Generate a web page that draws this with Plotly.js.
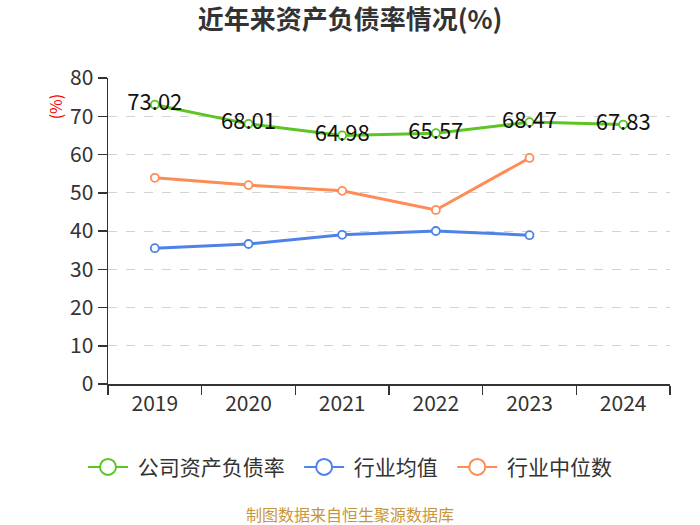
<!DOCTYPE html>
<html><head><meta charset="utf-8">
<script src="https://cdn.plot.ly/plotly-3.0.1.min.js"></script>
<style>body{margin:0;background:#fff}</style>
</head><body><div id="chart" style="width:700px;height:525px"></div>
<script>
const years = ['2019','2020','2021','2022','2023','2024'];
const companyRatio = [73.02, 68.01, 64.98, 65.57, 68.47, 67.83];
const industryAvg = [35.5, 36.6, 39.0, 40.0, 38.9];
const industryMedian = [53.9, 52.0, 50.5, 45.5, 59.1];
const seriesNames = ['公司资产负债率', '行业均值', '行业中位数'];
const colors = ['#5cc524', '#4f82e8', '#ff8b55'];
const font = '"Noto Sans CJK SC", "Noto Sans", sans-serif';

function lineTrace(x, y, i, extra) {
  return Object.assign({
    x: x, y: y, type: 'scatter', mode: 'lines+markers', name: seriesNames[i],
    line: {color: colors[i], width: 3},
    marker: {symbol: 'circle', size: 8, color: '#fff', line: {color: colors[i], width: 1.8}},
    showlegend: false, hoverinfo: 'skip'
  }, extra || {});
}
function legendTrace(i, last) {
  return {
    x: [null], y: [null], type: 'scatter', mode: 'lines+markers',
    name: '\u00a0' + seriesNames[i] + (last ? '' : '\u00a0\u00a0'),
    line: {color: colors[i], width: 2},
    marker: {symbol: 'circle', size: 17, color: '#fff', line: {color: colors[i], width: 2}},
    showlegend: true
  };
}

const data = [
  lineTrace(years, companyRatio, 0, {
    mode: 'lines+markers+text',
    text: companyRatio.map(v => v.toFixed(2)),
    textposition: 'middle center',
    textfont: {size: 22, color: '#111', family: font}
  }),
  lineTrace(years.slice(0, industryAvg.length), industryAvg, 1),
  lineTrace(years.slice(0, industryMedian.length), industryMedian, 2),
  legendTrace(0, false), legendTrace(1, false), legendTrace(2, true)
];

const layout = {
  width: 700, height: 525,
  margin: {l: 108, r: 30, t: 78, b: 141},
  paper_bgcolor: '#fff', plot_bgcolor: '#fff',
  font: {family: font, color: '#333'},
  title: {text: '<b>近年来资产负债率情况(%)</b>', x: 0.5, xanchor: 'center', y: 0.962, yanchor: 'middle',
          font: {size: 26, color: '#333', family: font}},
  xaxis: {
    type: 'category', categoryorder: 'array', categoryarray: years,
    range: [-0.5, 5.5], tickson: 'boundaries',
    showline: true, linecolor: '#333', linewidth: 1.5,
    ticks: 'outside', ticklen: 9, tickcolor: '#333', tickwidth: 1.5,
    showgrid: false, zeroline: false,
    tickfont: {size: 21, color: '#333', family: font}
  },
  yaxis: {
    range: [0, 80], dtick: 10, tick0: 0,
    showline: true, linecolor: '#333', linewidth: 1.5,
    ticks: 'outside', ticklen: 9, tickcolor: '#333', tickwidth: 1.5,
    showgrid: true, gridcolor: '#d3d3d3', griddash: 'dash', gridwidth: 1,
    zeroline: false,
    tickfont: {size: 21, color: '#333', family: font}
  },
  legend: {orientation: 'h', x: 0.4306, xanchor: 'center', y: -0.272, yanchor: 'middle',
           font: {size: 21, color: '#333', family: font}, itemwidth: 40},
  annotations: [
    {text: '(%)', xref: 'paper', yref: 'paper', x: -0.094, y: 0.908, xanchor: 'center', yanchor: 'middle',
     showarrow: false, textangle: -90, font: {size: 16, color: '#ff0000', family: font}},
    {text: '制图数据来自恒生聚源数据库', xref: 'paper', yref: 'paper', x: 0.4306, y: -0.425,
     xanchor: 'center', yanchor: 'middle', showarrow: false,
     font: {size: 16, color: '#c8963a', family: font}}
  ]
};
Plotly.newPlot('chart', data, layout, {displayModeBar: false, staticPlot: true});
</script></body></html>
